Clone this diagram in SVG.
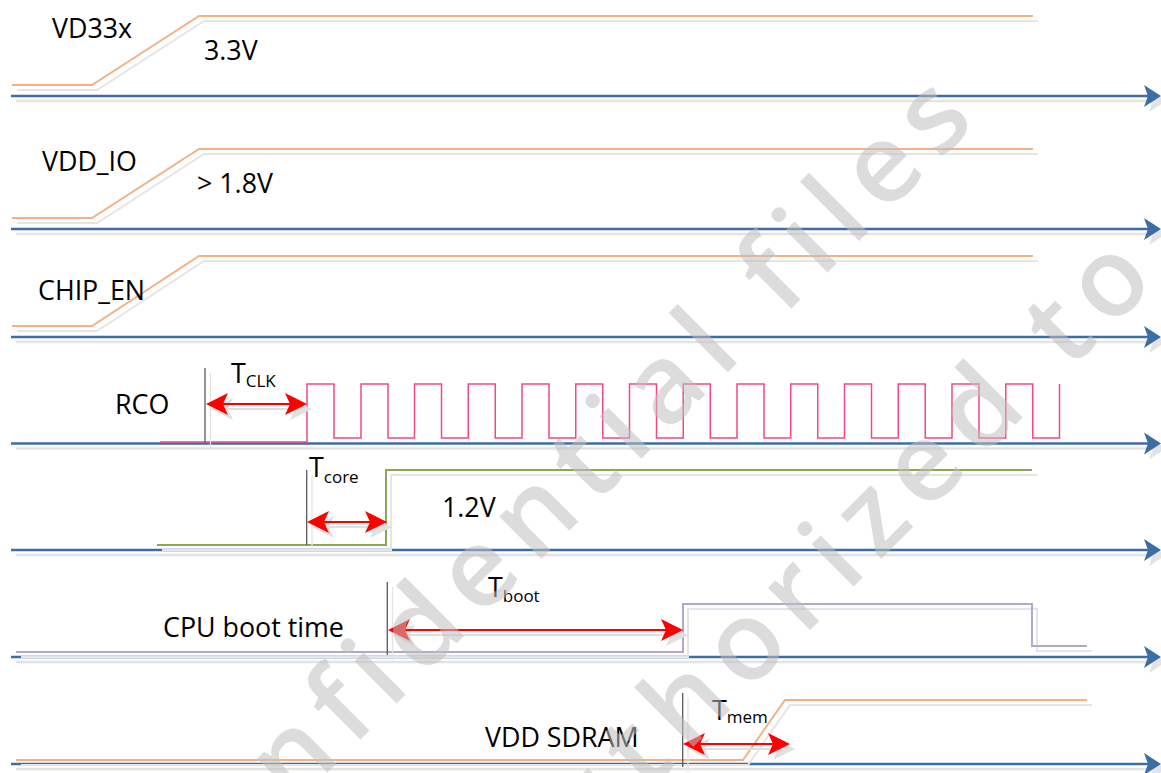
<svg xmlns="http://www.w3.org/2000/svg" xmlns:xlink="http://www.w3.org/1999/xlink" width="1161" height="773" viewBox="0 0 1161 773">
<style>
.lbl{font-family:"Open Sans","Liberation Sans",sans-serif;font-size:26.8px;fill:#000}
.sub{font-size:17px}
.ax{fill:none;stroke:#3c6ea5;stroke-width:2.5;marker-end:url(#ahBlue)}
.axsh{fill:none;stroke:#e3e3e3;stroke-width:2.5;marker-end:url(#ahGray)}
.sig{fill:none;stroke-width:2;stroke-linejoin:miter}
.sh{fill:none;stroke:#e5e5e5;stroke-width:2}
.or{stroke:#f4b183}
.gr{stroke:#8ba752}
.pu{stroke:#b4a5cf}
.pk{fill:none;stroke:#f2478c;stroke-width:1.5}
.tick{stroke:#595959;stroke-width:1.3}
.ticksh{stroke:#e3e3e3;stroke-width:1.3}
.dim{fill:none;stroke:#ff0000;stroke-width:2;marker-start:url(#ahRed);marker-end:url(#ahRed)}
.dimsh{fill:none;stroke:#e0e0e0;stroke-width:2;marker-start:url(#ahRedSh);marker-end:url(#ahRedSh)}
.wm{font-family:"Open Sans","Liberation Sans",sans-serif;font-size:110px;font-weight:600;fill:#bfbfbf;fill-opacity:0.55;letter-spacing:14px}
</style>
<defs>
<marker id="ahBlue" viewBox="-15 -12 19 24" refX="0" refY="0" markerWidth="19" markerHeight="24" markerUnits="userSpaceOnUse" orient="auto"><path d="M3,0 L-14,-11 L-10,0 L-14,11 Z" fill="#3c6ea5"/></marker>
<marker id="ahGray" viewBox="-15 -12 19 24" refX="0" refY="0" markerWidth="19" markerHeight="24" markerUnits="userSpaceOnUse" orient="auto"><path d="M3,0 L-14,-11 L-10,0 L-14,11 Z" fill="#e3e3e3"/></marker>
<marker id="ahRed" viewBox="-20 -12 24 24" refX="0" refY="0" markerWidth="24" markerHeight="24" markerUnits="userSpaceOnUse" orient="auto-start-reverse"><path d="M3,0 L-19,-11 L-14,0 L-19,11 Z" fill="#ff0000"/></marker>
<marker id="ahRedSh" viewBox="-20 -12 24 24" refX="0" refY="0" markerWidth="24" markerHeight="24" markerUnits="userSpaceOnUse" orient="auto-start-reverse"><path d="M3,0 L-19,-11 L-14,0 L-19,11 Z" fill="#e0e0e0"/></marker>
<path id="pVd33" d="M12,85 H92 L199,16 H1033"/>
<path id="pVddio" d="M12,218 H92 L199,149 H1033"/>
<path id="pChip" d="M12,326 H92 L199,256 H1033"/>
<path id="pCore" d="M157,545 H386 V470 H1032"/>
<path id="pCpu" d="M16,652 H683 V604 H1032 V646 H1087"/>
<path id="pSdram" d="M16,760 H743 L785,700 H1087"/>
</defs>

<g id="axes">
<path class="axsh" d="M16,101 H1163"/>
<path class="axsh" d="M16,234 H1163"/>
<path class="axsh" d="M16,342 H1163"/>
<path class="axsh" d="M16,448.5 H1163"/>
<path class="axsh" d="M16,555 H1163"/>
<path class="axsh" d="M16,662 H1163"/>
<path class="axsh" d="M16,769 H1163"/>
<path class="ax" d="M11,96 H1158"/>
<path class="ax" d="M11,229 H1158"/>
<path class="ax" d="M11,337 H1158"/>
<path class="ax" d="M11,443.5 H1158"/>
<path class="ax" d="M11,550 H1158"/>
<path class="ax" d="M11,657 H1158"/>
<path class="ax" d="M11,764 H1158"/>
</g>

<g id="vd33x">
<use href="#pVd33" class="sh" transform="translate(5,5)"/>
<use href="#pVd33" class="sig or"/>
<text class="lbl" x="52" y="38">VD33x</text>
<text class="lbl" x="204" y="60">3.3V</text>
</g>

<g id="vdd_io">
<use href="#pVddio" class="sh" transform="translate(5,5)"/>
<use href="#pVddio" class="sig or"/>
<text class="lbl" x="42" y="171">VDD_IO</text>
<text class="lbl" x="197" y="193">&gt; 1.8V</text>
</g>

<g id="chip_en">
<use href="#pChip" class="sh" transform="translate(5,5)"/>
<use href="#pChip" class="sig or"/>
<text class="lbl" x="38" y="300">CHIP_EN</text>
</g>

<g id="rco">
<path class="pk" d="M160,442 H307 V384 H334 V438 H361 V384 H388 V438 H414.5 V384 H441.5 V438 H468.25 V384 H495.25 V438 H522 V384 H549 V438 H575.75 V384 H602.75 V438 H629.5 V384 H656.5 V438 H683.25 V384 H710.25 V438 H737 V384 H764 V438 H790.75 V384 H817.75 V438 H844.5 V384 H871.5 V438 H898.25 V384 H925.25 V438 H952 V384 H979 V438 H1005.75 V384 H1032.75 V438 H1059.5 V384"/>
<text class="lbl" x="115" y="414">RCO</text>
</g>

<g id="core">
<use href="#pCore" class="sh" transform="translate(5,5)"/>
<use href="#pCore" class="sig gr"/>
<text class="lbl" x="442" y="517">1.2V</text>
</g>

<g id="cpu_boot">
<use href="#pCpu" class="sh" transform="translate(5,5)"/>
<use href="#pCpu" class="sig pu"/>
<text class="lbl" x="163" y="637">CPU boot time</text>
</g>

<g id="vdd_sdram">
<use href="#pSdram" class="sh" transform="translate(5,5)"/>
<use href="#pSdram" class="sig or"/>
<text class="lbl" x="485" y="747">VDD SDRAM</text>
</g>

<g id="t_clk">
<line class="ticksh" x1="210.5" y1="373" x2="210.5" y2="448"/>
<line class="tick" x1="205" y1="368" x2="205" y2="443"/>
<path class="dimsh" d="M214,409 H309"/>
<path class="dim" d="M209,404 H304"/>
<text class="lbl" x="231" y="383">T<tspan class="sub" dy="4">CLK</tspan></text>
</g>

<g id="t_core">
<line class="ticksh" x1="312" y1="475" x2="312" y2="550"/>
<line class="tick" x1="306.7" y1="470" x2="306.7" y2="545"/>
<path class="dimsh" d="M315,527 H389"/>
<path class="dim" d="M310,522 H384"/>
<text class="lbl" x="309" y="477">T<tspan class="sub" dy="6">core</tspan></text>
</g>

<g id="t_boot">
<line class="ticksh" x1="392.5" y1="587" x2="392.5" y2="660"/>
<line class="tick" x1="387.3" y1="582" x2="387.3" y2="655"/>
<path class="dimsh" d="M396,635 H685"/>
<path class="dim" d="M391,630 H680"/>
<text class="lbl" x="488" y="597">T<tspan class="sub" dy="5">boot</tspan></text>
</g>

<g id="t_mem">
<line class="ticksh" x1="688" y1="698" x2="688" y2="772"/>
<line class="tick" x1="682.7" y1="693" x2="682.7" y2="767"/>
<path class="dimsh" d="M691,749 H792"/>
<path class="dim" d="M686,744 H787"/>
<text class="lbl" x="712" y="720">T<tspan class="sub" dy="3">mem</tspan></text>
</g>

<g id="watermark">
<text class="wm" transform="translate(293,807) rotate(-45)">nfidential files</text>
<text class="wm" transform="translate(587,853) rotate(-45)">uthorized to</text>
</g>
</svg>
